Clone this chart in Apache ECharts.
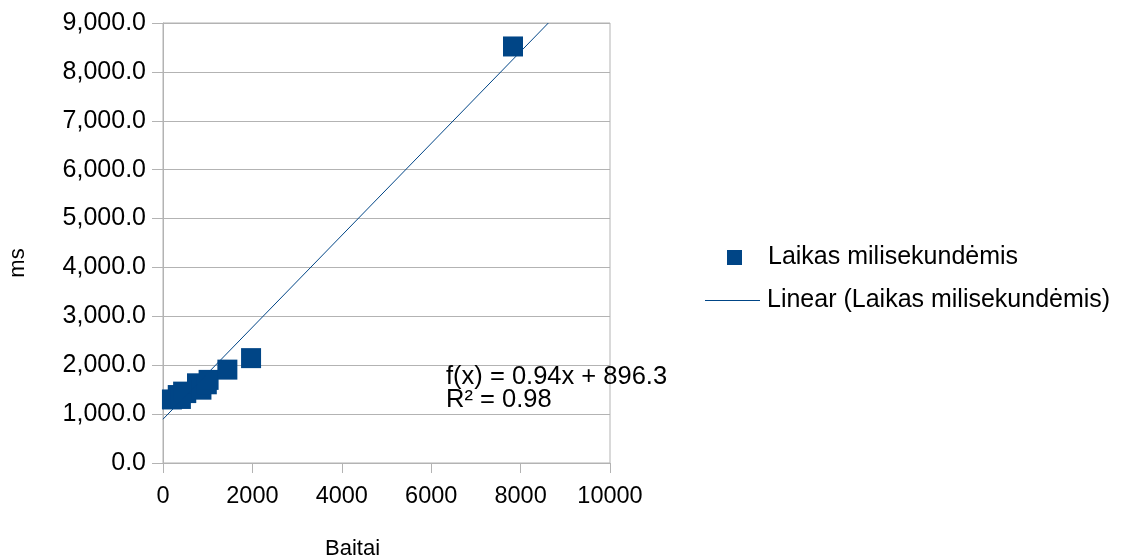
<!DOCTYPE html>
<html>
<head>
<meta charset="utf-8">
<script src="https://cdn.jsdelivr.net/npm/echarts@6/dist/echarts.min.js"></script>
<style>
  html, body { margin: 0; padding: 0; background: #ffffff; }
  #chart { width: 1133px; height: 560px; }
</style>
</head>
<body>
<div id="chart"></div>
<script>
// Measured file sizes (bytes) and processing times (ms)
const bytes = [200, 330, 400, 450, 520, 760, 860, 980, 1020, 1440, 1970, 7830];
const millis = [1300, 1390, 1310, 1460, 1430, 1630, 1500, 1610, 1700, 1910, 2145, 8520];

// Linear trend line coefficients
const SLOPE = 0.94;
const INTERCEPT = 896.3;
const R2 = 0.98;

// Axis ranges
const X_MIN = 0, X_MAX = 10000, X_STEP = 2000;
const Y_MIN = 0, Y_MAX = 9000, Y_STEP = 1000;

const SERIES_NAME = 'Laikas milisekundėmis';
const TREND_NAME = 'Linear (Laikas milisekundėmis)';

const BLUE = '#004586';
const GRID_GRAY = '#b3b3b3';
const FONT = 'Liberation Sans';

const points = bytes.map((b, i) => [b, millis[i]]);
// Trend line runs from x = 0 up to where it reaches the top of the value axis
const xEnd = (Y_MAX - INTERCEPT) / SLOPE;
const trend = [[X_MIN, SLOPE * X_MIN + INTERCEPT], [xEnd, SLOPE * xEnd + INTERCEPT]];

const fmtY = v => v.toLocaleString('en-US', { minimumFractionDigits: 1, maximumFractionDigits: 1 });
const fmtX = v => String(v);

const chart = echarts.init(document.getElementById('chart'), null, { renderer: 'canvas' });
chart.setOption({
  backgroundColor: '#ffffff',
  animation: false,
  textStyle: { fontFamily: FONT },
  grid: {
    left: 163, right: 523, top: 23, bottom: 97,
    containLabel: false,
    outerBoundsMode: 'none',
    show: true, borderColor: GRID_GRAY, borderWidth: 1, backgroundColor: 'transparent'
  },
  legend: [
    {
      data: [SERIES_NAME],
      left: 722, top: 240,
      orient: 'vertical',
      itemWidth: 15, itemHeight: 15,
      icon: 'rect',
      textStyle: { fontFamily: FONT, fontSize: 25, color: '#000', padding: [0, 0, 0, 21] }
    },
    {
      data: [TREND_NAME],
      left: 700, top: 283,
      orient: 'vertical',
      itemWidth: 55, itemHeight: 1,
      icon: 'rect',
      textStyle: { fontFamily: FONT, fontSize: 25, color: '#000', padding: [0, 0, 0, 2] }
    }
  ],
  xAxis: {
    type: 'value',
    min: X_MIN, max: X_MAX, interval: X_STEP,
    name: 'Baitai',
    nameLocation: 'middle',
    nameGap: 75,
    nameTextStyle: { fontFamily: FONT, fontSize: 22, color: '#000', padding: [0, 68, 0, 0] },
    axisLine: { show: true, lineStyle: { color: GRID_GRAY, width: 1 } },
    axisTick: { show: true, inside: false, length: 10, lineStyle: { color: GRID_GRAY } },
    axisLabel: { fontFamily: FONT, fontSize: 23.5, color: '#000', margin: 22, formatter: fmtX },
    splitLine: { show: false }
  },
  yAxis: {
    type: 'value',
    min: Y_MIN, max: Y_MAX, interval: Y_STEP,
    name: 'ms',
    nameLocation: 'middle',
    nameGap: 134,
    nameRotate: 90,
    nameTextStyle: { fontFamily: FONT, fontSize: 22, color: '#000', padding: [0, 40, 0, 0] },
    axisLine: { show: true, lineStyle: { color: GRID_GRAY, width: 1 } },
    axisTick: { show: true, inside: false, length: 11, lineStyle: { color: GRID_GRAY } },
    axisLabel: { fontFamily: FONT, fontSize: 25, color: '#000', margin: 17, formatter: fmtY },
    splitLine: { show: true, lineStyle: { color: GRID_GRAY, width: 1 } }
  },
  series: [
    {
      name: TREND_NAME,
      type: 'line',
      data: trend,
      symbol: 'none',
      showSymbol: false,
      lineStyle: { color: BLUE, width: 1 },
      itemStyle: { color: BLUE },
      z: 3
    },
    {
      name: SERIES_NAME,
      type: 'scatter',
      data: points,
      symbol: 'rect',
      symbolSize: 20,
      itemStyle: { color: BLUE, opacity: 1 },
      z: 2
    }
  ],
  graphic: [
    {
      type: 'text',
      left: 446, top: 364,
      style: {
        text: 'f(x) = ' + SLOPE + 'x + ' + INTERCEPT + '\nR² = ' + R2,
        font: '25.5px "Liberation Sans"',
        fill: '#000',
        lineHeight: 23
      },
      z: 10
    }
  ]
});
</script>
</body>
</html>
